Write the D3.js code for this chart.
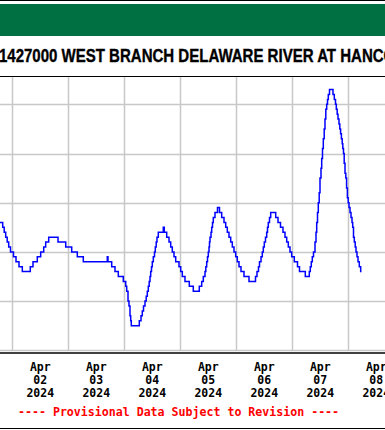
<!DOCTYPE html>
<html>
<head>
<meta charset="utf-8">
<script src="https://cdn.jsdelivr.net/npm/d3@7"></script>
<style>
  html, body { margin: 0; padding: 0; background: #fff; }
  svg { display: block; }
</style>
</head>
<body>
<svg id="svg0"></svg>
<script>
// water temperature, deg C, 15-minute readings (only the points where the value changes)
// hours counted from 2024-04-02 00:00
let stepHours = [-7.41, -4.11, -3.47, -2.83, -2.19, -1.54, -0.77, 0.51, 1.59, 2.87, 4.29,
    7.71, 8.87, 10.71, 12.17, 13.46, 14.31, 15.6, 19.59, 22.89, 25.46, 27.86, 30.43,
    40.71, 41.01, 42.6, 44.01, 45.43, 47.57, 48.6, 49.03, 49.59, 50.01, 50.44, 50.74, 51.0,
    54.43, 55.16, 55.71, 56.23, 56.87, 57.39, 57.86, 58.29, 58.67, 59.01, 59.31, 59.66, 60.0,
    60.43, 60.94, 61.29, 61.67, 62.01, 62.57, 64.71, 65.14, 66.17, 67.16, 67.89, 68.57, 69.3,
    70.03, 71.44, 72.17, 72.86, 74.01, 75.86, 77.57, 80.14, 81.17, 81.86, 82.59, 82.93, 83.31,
    83.66, 84.0, 84.3, 84.51, 84.73, 85.16, 85.46, 85.8, 86.14, 86.87, 87.94, 88.8, 89.74,
    90.73, 91.46, 92.14, 92.87, 93.6, 94.29, 95.01, 95.74, 96.43, 97.16, 98.01, 99.3, 101.44,
    104.23, 104.87, 105.51, 105.94, 106.59, 107.14, 107.57, 108.0, 108.51, 109.03, 109.37,
    109.71, 110.23, 110.74, 112.89, 113.87, 114.94, 116.01, 116.87, 117.6, 118.29, 119.01,
    119.74, 120.86, 122.23, 123.09, 125.57, 127.29, 127.71, 128.14, 128.57, 129.09, 129.73,
    130.16, 130.46, 130.8, 131.14, 131.53, 131.87, 132.3, 132.6, 132.94, 133.29, 133.67,
    134.01, 134.36, 134.74, 135.09, 135.43, 135.94, 137.44, 138.0, 138.51, 138.86, 139.24,
    139.59, 140.01, 140.36, 140.7, 141.04, 141.39, 141.64, 141.94, 142.24, 142.59, 142.93,
    143.27, 143.61, 143.96, 144.3, 144.73, 145.16, 145.59, 145.89, 146.23, 146.57, 146.96,
    147.3, 147.73, 148.16, 148.71, 149.31, 149.66];
let tempC = [6.6, 6.5, 6.4, 6.3, 6.2, 6.1, 6.0, 5.9, 5.8, 5.7, 5.6,
    5.7, 5.8, 5.9, 6.0, 6.1, 6.2, 6.3, 6.2, 6.1, 6.0, 5.9, 5.8,
    5.9, 5.8, 5.7, 5.6, 5.5, 5.4, 5.3, 5.2, 5.0, 4.9, 4.7, 4.6, 4.5,
    4.6, 4.7, 4.8, 4.9, 5.0, 5.1, 5.2, 5.3, 5.4, 5.5, 5.6, 5.7, 5.8,
    5.9, 6.0, 6.1, 6.2, 6.3, 6.4, 6.5, 6.4, 6.3, 6.2, 6.1, 6.0, 5.9,
    5.8, 5.7, 5.6, 5.5, 5.4, 5.3, 5.2, 5.3, 5.4, 5.5, 5.6, 5.7, 5.8,
    5.9, 6.0, 6.1, 6.2, 6.3, 6.4, 6.5, 6.6, 6.7, 6.8, 6.9, 6.8, 6.7,
    6.6, 6.5, 6.4, 6.3, 6.2, 6.1, 6.0, 5.9, 5.8, 5.7, 5.6, 5.5, 5.4,
    5.5, 5.6, 5.7, 5.8, 5.9, 6.0, 6.1, 6.2, 6.3, 6.4, 6.5,
    6.6, 6.7, 6.8, 6.7, 6.6, 6.5, 6.4, 6.3, 6.2, 6.1, 6.0,
    5.9, 5.8, 5.7, 5.6, 5.5, 5.6, 5.7, 5.8, 5.9, 6.0, 6.2,
    6.4, 6.6, 6.8, 7.0, 7.2, 7.5, 7.7, 7.9, 8.1, 8.3, 8.5,
    8.7, 8.9, 9.0, 9.1, 9.2, 9.3, 9.2, 9.1, 9.0, 8.9, 8.8,
    8.7, 8.6, 8.5, 8.4, 8.3, 8.2, 8.1, 8.0, 7.8, 7.6, 7.5,
    7.3, 7.1, 7.0, 6.9, 6.8, 6.7, 6.6, 6.5, 6.3, 6.2, 6.1,
    6.0, 5.9, 5.8, 5.7, 5.6, 5.6];

let dayLabels = ['Apr\n02\n2024', 'Apr\n03\n2024', 'Apr\n04\n2024', 'Apr\n05\n2024',
    'Apr\n06\n2024', 'Apr\n07\n2024', 'Apr\n08\n2024'];
let yTicks = [4, 5, 6, 7, 8, 9];
let titleText = 'USGS 01427000 WEST BRANCH DELAWARE RIVER AT HANCOCK NY';
let noteText = '---- Provisional Data Subject to Revision ----';

let width = 385;
let height = 430;
let plot = {left: -43.7, right: 404.3, top: 76.5, bottom: 353};

let svg = d3.select('#svg0').attr('width', width).attr('height', height);
svg.append('rect').attr('width', width).attr('height', height).style('fill', '#fff');

let t0 = new Date(2024, 3, 2, 0, 0);
let data = stepHours.map((h, i) => [new Date(t0.getTime() + h * 3600000), tempC[i]]);

// scales
let xScale = d3.scaleTime().domain([new Date(2024, 3, 1), new Date(2024, 3, 9)]).range([plot.left, plot.right]);
let yScale = d3.scaleLinear().domain([4, 9]).range([350.3, 104.3]);

// outer border + header band
svg.append('line').attr('x1', 0).attr('x2', width).attr('y1', 0.5).attr('y2', 0.5).style('stroke', '#000');
svg.append('line').attr('x1', 0).attr('x2', width).attr('y1', 428.5).attr('y2', 428.5).style('stroke', '#000');
svg.append('rect').attr('x', 0).attr('y', 4).attr('width', width).attr('height', 32).style('fill', '#006F41');

// title (squeezed to the width of the original)
let title = svg.append('text')
    .text(titleText)
    .style('font-family', '"Liberation Sans", Arial, sans-serif')
    .style('font-weight', 'bold').style('font-size', '17.5px').style('fill', '#000')
    .style('stroke', '#000').style('stroke-width', 0.35);
let tn = title.node();
let pre = tn.getSubStringLength(0, 6);
let vis = tn.getSubStringLength(6, 42);
let k = 385 / vis;
title.attr('transform', 'translate(' + (-1 - pre * k) + ', 61.5) scale(' + k + ', 1)');

// gridlines
let g = svg.append('g');
g.selectAll('.hgrid').data(yTicks).enter().append('line')
    .attr('class', 'hgrid')
    .attr('x1', plot.left).attr('x2', plot.right)
    .attr('y1', d => Math.round(yScale(d)) + 0.5).attr('y2', d => Math.round(yScale(d)) + 0.5)
    .style('stroke', '#C8C8C8').style('stroke-width', 1.5);
let days = d3.timeDay.range(new Date(2024, 3, 2), new Date(2024, 3, 9));
g.selectAll('.vgrid').data(days).enter().append('line')
    .attr('class', 'vgrid')
    .attr('x1', d => Math.floor(xScale(d)) + 0.5).attr('x2', d => Math.floor(xScale(d)) + 0.5)
    .attr('y1', plot.top).attr('y2', 351)
    .style('stroke', '#C8C8C8').style('stroke-width', 1.5);

// frame
svg.append('line').attr('x1', 0).attr('x2', width).attr('y1', plot.top).attr('y2', plot.top)
    .style('stroke', '#000').style('stroke-width', 1.2);
svg.append('line').attr('x1', 0).attr('x2', width).attr('y1', plot.bottom).attr('y2', plot.bottom)
    .style('stroke', '#000').style('stroke-width', 1.5);

// data line
let line = d3.line().x(d => xScale(d[0])).y(d => yScale(d[1])).curve(d3.curveStepAfter);
svg.append('path').datum(data)
    .attr('d', line)
    .style('fill', 'none').style('stroke', '#0000FF').style('stroke-width', 1.5);

// x labels at noon of each day
let labelDays = d3.timeDay.range(new Date(2024, 3, 2), new Date(2024, 3, 9));
let lab = svg.selectAll('.xlab').data(labelDays).enter().append('text')
    .attr('class', 'xlab')
    .attr('x', d => xScale(d3.timeHour.offset(d, 12)))
    .attr('y', 370.7)
    .style('font-family', '"DejaVu Sans Mono", "Liberation Mono", monospace')
    .style('font-weight', 'bold').style('font-size', '11.5px')
    .style('text-anchor', 'middle').style('fill', '#000');
lab.selectAll('tspan').data((d, i) => dayLabels[i].split('\n')).enter().append('tspan')
    .attr('x', function() { return d3.select(this.parentNode).attr('x'); })
    .attr('dy', (d, i) => i === 0 ? 0 : 13.3)
    .text(d => d);

// provisional note
svg.append('text')
    .attr('x', 18).attr('y', 416)
    .text(noteText)
    .style('font-family', '"DejaVu Sans Mono", "Liberation Mono", monospace')
    .style('font-weight', 'bold').style('font-size', '11.6px').style('fill', '#FF0000');
</script>
</body>
</html>
